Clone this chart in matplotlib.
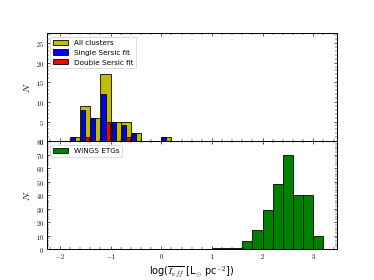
import matplotlib
matplotlib.use("Agg")
import matplotlib.pyplot as plt
import numpy as np
from matplotlib.ticker import MultipleLocator, AutoMinorLocator, FuncFormatter

# bin edges (log I_eff), width 0.2
edges = np.round(np.arange(-2.0, 3.21, 0.2), 2)
centers = edges[:-1] + 0.1

# counts per bin
all_clusters = {-1.7: 1, -1.5: 9, -1.3: 6, -1.1: 17, -0.9: 5, -0.7: 5, -0.5: 2, 0.1: 1}
single_sersic = {-1.7: 1, -1.5: 8, -1.3: 6, -1.1: 12, -0.9: 5, -0.7: 4, -0.5: 2, 0.1: 1}
double_sersic = {-1.5: 1, -1.1: 5, -0.7: 1}
wings_etgs = {1.1: 1, 1.3: 1, 1.5: 1, 1.7: 6, 1.9: 14, 2.1: 29, 2.3: 48,
              2.5: 70, 2.7: 40, 2.9: 40, 3.1: 10}


def weights(d):
    return [d.get(round(c, 1), 0) for c in centers]


plt.rcParams["mathtext.fontset"] = "cm"
plt.rcParams["figure.figsize"] = [6.4, 4.8]

fig, (ax1, ax2) = plt.subplots(2, 1, sharex=True, dpi=58.44)
fig.subplots_adjust(hspace=0)

ax1.hist(centers, bins=edges, weights=weights(all_clusters), color="y",
         edgecolor="k", linewidth=1, label="All clusters")
ax1.hist([centers, centers], bins=edges,
         weights=[weights(single_sersic), weights(double_sersic)],
         color=["b", "r"], edgecolor="k", linewidth=1,
         label=["Single Sersic fit", "Double Sersic fit"])
ax2.hist(centers, bins=edges, weights=weights(wings_etgs), color="g",
         edgecolor="k", linewidth=1, label="WINGS ETGs")

ax1.set_ylim(0, 27.5)
ax2.set_ylim(0, 80)
ax1.set_xlim(-2.26, 3.46)
ax1.yaxis.set_major_locator(MultipleLocator(5))
ax2.yaxis.set_major_locator(MultipleLocator(10))
ax1.xaxis.set_major_locator(MultipleLocator(1))
ax1.xaxis.set_minor_locator(MultipleLocator(0.2))

fmt = FuncFormatter(lambda v, pos: r"$%g$" % v)
for ax in (ax1, ax2):
    ax.yaxis.set_minor_locator(AutoMinorLocator())
    ax.tick_params(which="both", direction="in", top=True, right=True,
                   labelsize=8)
    ax.tick_params(which="major", length=4)
    ax.tick_params(which="minor", length=2)
    ax.yaxis.set_major_formatter(fmt)
    ax.set_ylabel(r"$N$", fontsize=12)
    ax.legend(loc="upper left", fontsize=9)
    for s in ax.spines.values():
        s.set_linewidth(1.2)
ax2.xaxis.set_major_formatter(fmt)

ax2.set_xlabel(r"log($\overline{I_{eff}}$ [L$_{\odot}$ pc$^{-2}$])",
               fontsize=12)

plt.savefig("out.png", dpi=58.44)
